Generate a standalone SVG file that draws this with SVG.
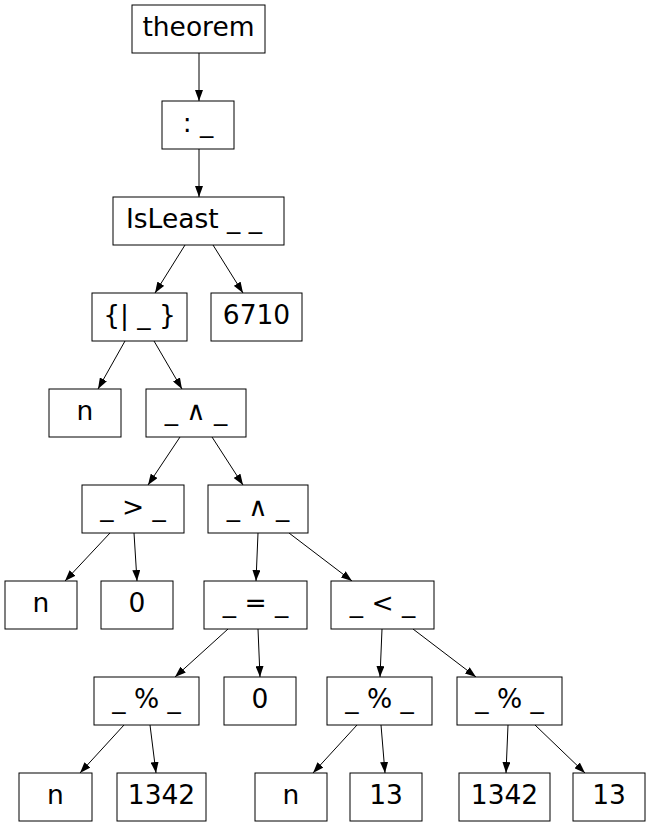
<svg xmlns="http://www.w3.org/2000/svg" width="651" height="827" viewBox="0 0 651 827">
<style>
.n rect{fill:#fff;stroke:#000;stroke-width:1}
.n text{font-family:"DejaVu Sans",sans-serif;font-size:26.5px;text-anchor:middle;fill:#000}
#edges line{stroke:#000;stroke-width:1;marker-end:url(#ah)}
</style>
<defs>
<marker id="ah" markerUnits="userSpaceOnUse" markerWidth="11" markerHeight="8" refX="11" refY="4" orient="auto"><path d="M0,0 L11,4 L0,8 z" fill="#000"/></marker>
</defs>
<rect width="651" height="827" fill="#fff"/>
<g id="edges">
<line x1="199" y1="53" x2="199" y2="101"/>
<line x1="199" y1="149" x2="199" y2="197"/>
<line x1="185" y1="245" x2="155" y2="293"/>
<line x1="213" y1="245" x2="243" y2="293"/>
<line x1="125" y1="341" x2="98" y2="389"/>
<line x1="154" y1="341" x2="182" y2="389"/>
<line x1="180" y1="437" x2="148" y2="485"/>
<line x1="212" y1="437" x2="243" y2="485"/>
<line x1="110" y1="533" x2="65" y2="581"/>
<line x1="134" y1="533" x2="137" y2="581"/>
<line x1="258" y1="533" x2="256" y2="581"/>
<line x1="289" y1="533" x2="352" y2="581"/>
<line x1="228" y1="629" x2="175" y2="677"/>
<line x1="258" y1="629" x2="260" y2="677"/>
<line x1="382" y1="629" x2="380" y2="677"/>
<line x1="413" y1="629" x2="476" y2="677"/>
<line x1="124" y1="725" x2="80" y2="773"/>
<line x1="150" y1="725" x2="156" y2="773"/>
<line x1="357" y1="725" x2="313" y2="773"/>
<line x1="381" y1="725" x2="385" y2="773"/>
<line x1="508" y1="725" x2="506" y2="773"/>
<line x1="535" y1="725" x2="585" y2="773"/>
</g>
<g id="theorem" class="n"><rect x="132" y="5" width="133" height="48"/><text x="198.5" y="36">theorem</text></g>
<g id="colon" class="n"><rect x="162" y="101" width="72" height="48"/><text x="198" y="132">: _</text></g>
<g id="isleast" class="n"><rect x="113" y="197" width="171" height="48"/><text x="194" y="228">IsLeast _ _</text></g>
<g id="setof" class="n"><rect x="92" y="293" width="95" height="48"/><text x="139.5" y="324">{| _ }</text></g>
<g id="n6710" class="n"><rect x="211" y="293" width="91" height="48"/><text x="256.5" y="324">6710</text></g>
<g id="n1" class="n"><rect x="49" y="389" width="72" height="48"/><text x="85" y="420">n</text></g>
<g id="and1" class="n"><rect x="146" y="389" width="100" height="48"/><text x="196" y="420">_ ∧ _</text></g>
<g id="gt" class="n"><rect x="82" y="485" width="102" height="48"/><text x="133" y="516">_ &gt; _</text></g>
<g id="and2" class="n"><rect x="208" y="485" width="100" height="48"/><text x="258" y="516">_ ∧ _</text></g>
<g id="n2" class="n"><rect x="5" y="581" width="72" height="48"/><text x="41" y="612">n</text></g>
<g id="zero1" class="n"><rect x="101" y="581" width="72" height="48"/><text x="137" y="612">0</text></g>
<g id="eq" class="n"><rect x="204" y="581" width="103" height="48"/><text x="255.5" y="612">_ = _</text></g>
<g id="lt" class="n"><rect x="331" y="581" width="103" height="48"/><text x="382.5" y="612">_ &lt; _</text></g>
<g id="mod1" class="n"><rect x="94" y="677" width="105" height="48"/><text x="146.5" y="708">_ % _</text></g>
<g id="zero2" class="n"><rect x="224" y="677" width="72" height="48"/><text x="260" y="708">0</text></g>
<g id="mod2" class="n"><rect x="327" y="677" width="105" height="48"/><text x="379.5" y="708">_ % _</text></g>
<g id="mod3" class="n"><rect x="457" y="677" width="105" height="48"/><text x="509.5" y="708">_ % _</text></g>
<g id="n3" class="n"><rect x="19" y="773" width="73" height="48"/><text x="55.5" y="804">n</text></g>
<g id="c1342a" class="n"><rect x="117" y="773" width="89" height="48"/><text x="161.5" y="804">1342</text></g>
<g id="n4" class="n"><rect x="255" y="773" width="72" height="48"/><text x="291" y="804">n</text></g>
<g id="c13a" class="n"><rect x="350" y="773" width="72" height="48"/><text x="386" y="804">13</text></g>
<g id="c1342b" class="n"><rect x="459" y="773" width="91" height="48"/><text x="504.5" y="804">1342</text></g>
<g id="c13b" class="n"><rect x="573" y="773" width="72" height="48"/><text x="609" y="804">13</text></g>
</svg>
